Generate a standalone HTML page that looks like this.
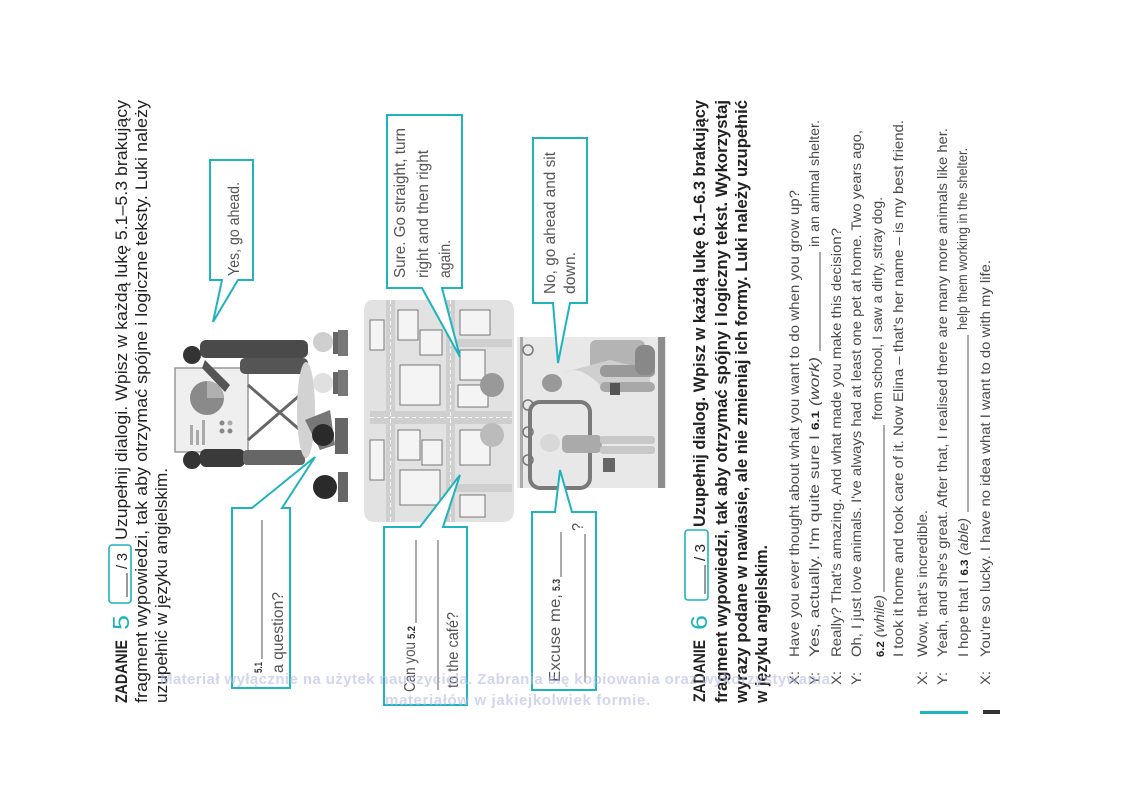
<!DOCTYPE html>
<html><head><meta charset="utf-8"><style>
html,body{margin:0;padding:0;background:#fff;}
svg{display:block;}
text{font-family:"Liberation Sans",Arial,sans-serif;}
</style></head><body>
<svg width="1122" height="793" viewBox="0 0 1122 793" xmlns="http://www.w3.org/2000/svg">
<rect width="1122" height="793" fill="#fff"/>

<!-- ZADANIE 5 header -->
<g fill="#222" font-size="17">
<text transform="translate(127,703) rotate(-90)" font-weight="bold" textLength="63" lengthAdjust="spacingAndGlyphs">ZADANIE</text>
<text transform="translate(129,630) rotate(-90)" font-size="23" fill="#1fb3bd" textLength="15" lengthAdjust="spacingAndGlyphs">5</text>
<rect x="109" y="545" width="22" height="58" rx="3" fill="none" stroke="#1fb3bd" stroke-width="1.6"/>
<line x1="127" y1="597" x2="127" y2="573" stroke="#333" stroke-width="1"/>
<text transform="translate(127,569) rotate(-90)" font-size="15" textLength="16" lengthAdjust="spacingAndGlyphs">/ 3</text>
<text transform="translate(127,540) rotate(-90)" textLength="440" lengthAdjust="spacingAndGlyphs">Uzupełnij dialogi. Wpisz w każdą lukę 5.1–5.3 brakujący</text>
<text transform="translate(147,703) rotate(-90)" textLength="603" lengthAdjust="spacingAndGlyphs">fragment wypowiedzi, tak aby otrzymać spójne i logiczne teksty. Luki należy</text>
<text transform="translate(167,703) rotate(-90)" textLength="235" lengthAdjust="spacingAndGlyphs">uzupełnić w języku angielskim.</text>
</g>

<!-- presentation scene -->
<g>
<rect x="175" y="368" width="73" height="84" fill="#efefef" stroke="#999" stroke-width="1.5"/>
<circle cx="207" cy="398" r="17" fill="#8a8a8a"/>
<path d="M207,398 L207,381 A17,17 0 0 1 224,398 Z" fill="#b0b0b0"/>
<circle cx="222" cy="423" r="2.5" fill="#888"/><circle cx="230" cy="423" r="2.5" fill="#aaa"/><circle cx="222" cy="431" r="2.5" fill="#888"/><circle cx="230" cy="431" r="2.5" fill="#888"/>
<rect x="190" y="425" width="3" height="20" fill="#aaa"/><rect x="196" y="430" width="3" height="15" fill="#aaa"/><rect x="202" y="420" width="3" height="25" fill="#aaa"/>
<line x1="248" y1="385" x2="300" y2="430" stroke="#666" stroke-width="3"/>
<line x1="248" y1="440" x2="300" y2="395" stroke="#666" stroke-width="3"/>
<circle cx="192" cy="355" r="9" fill="#333"/>
<rect x="200" y="340" width="108" height="18" rx="6" fill="#4a4a4a"/>
<rect x="240" y="358" width="68" height="16" rx="5" fill="#555"/>
<path d="M205,360 L230,385 L225,392 L202,368 Z" fill="#555"/>
<circle cx="192" cy="460" r="9" fill="#333"/>
<rect x="200" y="449" width="45" height="18" rx="6" fill="#3a3a3a"/>
<rect x="243" y="450" width="62" height="15" rx="4" fill="#666"/>
<ellipse cx="306" cy="410" rx="9" ry="48" fill="#d2d2d2"/>
<circle cx="323" cy="342" r="10" fill="#cfcfcf"/><rect x="333" y="332" width="5" height="22" fill="#666"/><rect x="338" y="330" width="10" height="26" fill="#777"/>
<circle cx="323" cy="383" r="10" fill="#e0e0e0"/><rect x="333" y="372" width="5" height="22" fill="#666"/><rect x="338" y="370" width="10" height="26" fill="#777"/>
<path d="M305,420 L330,410 L335,445 L320,450 Z" fill="#777"/>
<circle cx="323" cy="435" r="11" fill="#2a2a2a"/><rect x="335" y="418" width="13" height="36" fill="#666"/>
<circle cx="325" cy="487" r="12" fill="#2a2a2a"/><rect x="338" y="472" width="10" height="30" fill="#666"/>
</g>

<!-- city map -->
<g>
<path d="M372,300 H505 Q514,300 514,312 V510 Q514,522 502,522 H375 Q364,522 364,510 V312 Q364,300 372,300 Z" fill="#e2e2e2"/>
<rect x="386" y="300" width="9" height="222" fill="#cfcfcf"/>
<rect x="446" y="300" width="9" height="222" fill="#cfcfcf"/>
<rect x="370" y="411" width="142" height="13" fill="#cfcfcf"/>
<rect x="455" y="339" width="57" height="8" fill="#cfcfcf"/>
<rect x="455" y="484" width="57" height="8" fill="#cfcfcf"/>
<line x1="390.5" y1="300" x2="390.5" y2="522" stroke="#fff" stroke-dasharray="4,3"/>
<line x1="450.5" y1="300" x2="450.5" y2="522" stroke="#fff" stroke-dasharray="4,3"/>
<line x1="370" y1="417.5" x2="512" y2="417.5" stroke="#fff" stroke-dasharray="4,3"/>
<g fill="#f4f4f4" stroke="#777" stroke-width="1">
<rect x="398" y="310" width="20" height="30"/><rect x="420" y="330" width="22" height="25"/>
<rect x="400" y="365" width="40" height="40"/><rect x="398" y="430" width="22" height="30"/>
<rect x="422" y="440" width="20" height="25"/><rect x="400" y="470" width="40" height="35"/>
<rect x="460" y="350" width="25" height="30"/><rect x="458" y="385" width="30" height="22"/>
<rect x="460" y="430" width="30" height="35"/><rect x="460" y="495" width="25" height="22"/>
<rect x="370" y="320" width="14" height="30"/><rect x="370" y="440" width="14" height="40"/>
<rect x="460" y="310" width="30" height="25"/>
</g>
<circle cx="492" cy="385" r="12" fill="#999"/>
<circle cx="492" cy="435" r="12" fill="#bbb"/>
</g>

<!-- photo -->
<g>
<rect x="517" y="337" width="149" height="151" fill="#e8e8e8"/>
<rect x="658" y="337" width="7" height="151" fill="#8c8c8c"/>
<rect x="520" y="337" width="3" height="151" fill="#aaa"/>
<rect x="590" y="340" width="55" height="30" rx="6" fill="#b4b4b4"/>
<rect x="530" y="402" width="60" height="86" rx="10" fill="none" stroke="#7a7a7a" stroke-width="4"/>
<circle cx="528" cy="350" r="5" fill="none" stroke="#777" stroke-width="1.5"/>
<circle cx="528" cy="405" r="5" fill="none" stroke="#777" stroke-width="1.5"/>
<circle cx="528" cy="432" r="5" fill="none" stroke="#777" stroke-width="1.5"/>
<circle cx="528" cy="460" r="5" fill="none" stroke="#777" stroke-width="1.5"/>
<ellipse cx="552" cy="383" rx="10" ry="9" fill="#999"/>
<path d="M565,372 Q580,365 600,385 L650,390 L650,370 L610,360 Z" fill="#cfcfcf"/>
<rect x="600" y="365" width="55" height="12" rx="5" fill="#999"/>
<rect x="600" y="382" width="55" height="10" rx="5" fill="#a8a8a8"/>
<rect x="610" y="383" width="10" height="12" fill="#555"/>
<rect x="635" y="345" width="20" height="30" rx="8" fill="#888"/>
<ellipse cx="550" cy="443" rx="10" ry="9" fill="#d8d8d8"/>
<rect x="562" y="435" width="40" height="18" rx="5" fill="#aaa"/>
<rect x="600" y="436" width="55" height="8" rx="3" fill="#c8c8c8"/>
<rect x="600" y="446" width="55" height="8" rx="3" fill="#c8c8c8"/>
<rect x="603" y="458" width="12" height="14" fill="#666"/>
</g>

<!-- speech bubbles -->
<g fill="#fff" stroke="#1fb3bd" stroke-width="2" stroke-linejoin="miter">
<path d="M210,160 H253 V280 H238 L213,322 L222,280 H210 Z"/>
<path d="M232,508 H252 L315,457 L282,508 H290 V688 H232 Z"/>
<path d="M387,115 H462 V288 H442 L460,357 L422,288 H387 Z"/>
<path d="M384,527 H420 L460,475 L443,527 H467 V705 H384 Z"/>
<path d="M533,138 H587 V303 H570 L558,363 L553,303 H533 Z"/>
<path d="M532,512 H555 L560,470 L572,512 H596 V690 H532 Z"/>
</g>
<g fill="#555" font-size="16">
<text transform="translate(239,276) rotate(-90)" textLength="94" lengthAdjust="spacingAndGlyphs">Yes, go ahead.</text>
<text transform="translate(262,673) rotate(-90)" font-size="11" font-weight="bold" fill="#333" textLength="11" lengthAdjust="spacingAndGlyphs">5.1</text>
<line x1="262" y1="659" x2="262" y2="520" stroke="#555" stroke-width="1"/>
<text transform="translate(283,673) rotate(-90)" textLength="81" lengthAdjust="spacingAndGlyphs">a question?</text>
<text transform="translate(405,278) rotate(-90)" textLength="150" lengthAdjust="spacingAndGlyphs">Sure. Go straight, turn</text>
<text transform="translate(428,278) rotate(-90)" textLength="128" lengthAdjust="spacingAndGlyphs">right and then right</text>
<text transform="translate(450,278) rotate(-90)" textLength="38" lengthAdjust="spacingAndGlyphs">again.</text>
<text transform="translate(415,692) rotate(-90)" textLength="50" lengthAdjust="spacingAndGlyphs">Can you</text>
<text transform="translate(415,639) rotate(-90)" font-size="11" font-weight="bold" fill="#333" textLength="13" lengthAdjust="spacingAndGlyphs">5.2</text>
<line x1="416" y1="623" x2="416" y2="540" stroke="#555" stroke-width="1"/>
<line x1="438" y1="690" x2="438" y2="540" stroke="#555" stroke-width="1"/>
<text transform="translate(458,688) rotate(-90)" textLength="76" lengthAdjust="spacingAndGlyphs">to the café?</text>
<text transform="translate(555,294) rotate(-90)" textLength="142" lengthAdjust="spacingAndGlyphs">No, go ahead and sit</text>
<text transform="translate(575,294) rotate(-90)" textLength="42" lengthAdjust="spacingAndGlyphs">down.</text>
<text transform="translate(560,682) rotate(-90)" textLength="88" lengthAdjust="spacingAndGlyphs">Excuse me,</text>
<text transform="translate(560,591) rotate(-90)" font-size="11" font-weight="bold" fill="#333" textLength="12" lengthAdjust="spacingAndGlyphs">5.3</text>
<line x1="561" y1="577" x2="561" y2="532" stroke="#555" stroke-width="1"/>
<line x1="585" y1="682" x2="585" y2="534" stroke="#555" stroke-width="1"/>
<text transform="translate(583,531) rotate(-90)" textLength="8" lengthAdjust="spacingAndGlyphs">?</text>
</g>

<!-- ZADANIE 6 header -->
<g fill="#222" font-size="17" font-weight="bold">
<text transform="translate(705,702) rotate(-90)" textLength="62" lengthAdjust="spacingAndGlyphs">ZADANIE</text>
<text transform="translate(707,630) rotate(-90)" font-size="23" font-weight="normal" fill="#1fb3bd" textLength="15" lengthAdjust="spacingAndGlyphs">6</text>
<rect x="685" y="530" width="23" height="70" rx="3" fill="none" stroke="#1fb3bd" stroke-width="1.6"/>
<line x1="705" y1="594" x2="705" y2="565" stroke="#333" stroke-width="1"/>
<text transform="translate(705,561) rotate(-90)" font-size="15" font-weight="normal" textLength="17" lengthAdjust="spacingAndGlyphs">/ 3</text>
<text transform="translate(705,527) rotate(-90)" textLength="427" lengthAdjust="spacingAndGlyphs">Uzupełnij dialog. Wpisz w każdą lukę 6.1–6.3 brakujący</text>
<text transform="translate(727,703) rotate(-90)" textLength="603" lengthAdjust="spacingAndGlyphs">fragment wypowiedzi, tak aby otrzymać spójny i logiczny tekst. Wykorzystaj</text>
<text transform="translate(747,703) rotate(-90)" textLength="603" lengthAdjust="spacingAndGlyphs">wyrazy podane w nawiasie, ale nie zmieniaj ich formy. Luki należy uzupełnić</text>
<text transform="translate(767,703) rotate(-90)" textLength="158" lengthAdjust="spacingAndGlyphs">w języku angielskim.</text>
</g>

<!-- dialogue -->
<g fill="#4a4a4a" font-size="14">
<text transform="translate(799,685) rotate(-90)" textLength="14" lengthAdjust="spacingAndGlyphs">X:</text>
<text transform="translate(799,657) rotate(-90)" textLength="467" lengthAdjust="spacingAndGlyphs">Have you ever thought about what you want to do when you grow up?</text>
<text transform="translate(819,685) rotate(-90)" textLength="13" lengthAdjust="spacingAndGlyphs">Y:</text>
<text transform="translate(819,657) rotate(-90)" textLength="300" lengthAdjust="spacingAndGlyphs">Yes, actually. I'm quite sure I <tspan font-weight="bold" font-size="11" fill="#222">6.1</tspan> <tspan font-style="italic">(work)</tspan></text>
<line x1="820" y1="351" x2="820" y2="252" stroke="#555" stroke-width="1"/>
<text transform="translate(819,247) rotate(-90)" textLength="127" lengthAdjust="spacingAndGlyphs">in an animal shelter.</text>
<text transform="translate(841,685) rotate(-90)" textLength="14" lengthAdjust="spacingAndGlyphs">X:</text>
<text transform="translate(841,657) rotate(-90)" textLength="429" lengthAdjust="spacingAndGlyphs">Really? That's amazing. And what made you make this decision?</text>
<text transform="translate(861,685) rotate(-90)" textLength="13" lengthAdjust="spacingAndGlyphs">Y:</text>
<text transform="translate(861,657) rotate(-90)" textLength="527" lengthAdjust="spacingAndGlyphs">Oh, I just love animals. I've always had at least one pet at home. Two years ago,</text>
<text transform="translate(884,657) rotate(-90)" textLength="62" lengthAdjust="spacingAndGlyphs"><tspan font-weight="bold" font-size="11" fill="#222">6.2</tspan> <tspan font-style="italic">(while)</tspan></text>
<line x1="884" y1="592" x2="884" y2="425" stroke="#555" stroke-width="1"/>
<text transform="translate(882,420) rotate(-90)" textLength="223" lengthAdjust="spacingAndGlyphs">from school, I saw a dirty, stray dog.</text>
<text transform="translate(903,657) rotate(-90)" textLength="537" lengthAdjust="spacingAndGlyphs">I took it home and took care of it. Now Elina – that's her name – is my best friend.</text>
<text transform="translate(927,685) rotate(-90)" textLength="14" lengthAdjust="spacingAndGlyphs">X:</text>
<text transform="translate(927,657) rotate(-90)" textLength="147" lengthAdjust="spacingAndGlyphs">Wow, that's incredible.</text>
<text transform="translate(947,685) rotate(-90)" textLength="13" lengthAdjust="spacingAndGlyphs">Y:</text>
<text transform="translate(947,657) rotate(-90)" textLength="529" lengthAdjust="spacingAndGlyphs">Yeah, and she's great. After that, I realised there are many more animals like her.</text>
<text transform="translate(968,657) rotate(-90)" textLength="139" lengthAdjust="spacingAndGlyphs">I hope that I <tspan font-weight="bold" font-size="11" fill="#222">6.3</tspan> <tspan font-style="italic">(able)</tspan></text>
<line x1="968" y1="512" x2="968" y2="335" stroke="#555" stroke-width="1"/>
<text transform="translate(967,330) rotate(-90)" textLength="182" lengthAdjust="spacingAndGlyphs">help them working in the shelter.</text>
<text transform="translate(990,685) rotate(-90)" textLength="14" lengthAdjust="spacingAndGlyphs">X:</text>
<text transform="translate(990,657) rotate(-90)" textLength="397" lengthAdjust="spacingAndGlyphs">You're so lucky. I have no idea what I want to do with my life.</text>
</g>

<!-- footer fragments -->
<rect x="920" y="711" width="48" height="3" fill="#1fb3bd"/>
<rect x="983" y="710" width="17" height="4" fill="#333"/>

<!-- watermark -->
<g fill="#b4b9e2" fill-opacity="0.6" font-size="15" font-weight="bold">
<text x="160" y="684" textLength="670" lengthAdjust="spacing">Materiał wyłącznie na użytek nauczyciela. Zabrania się kopiowania oraz wykorzystywania</text>
<text x="385" y="705" textLength="265" lengthAdjust="spacing">materiałów w jakiejkolwiek formie.</text>
</g>
</svg>
</body></html>
